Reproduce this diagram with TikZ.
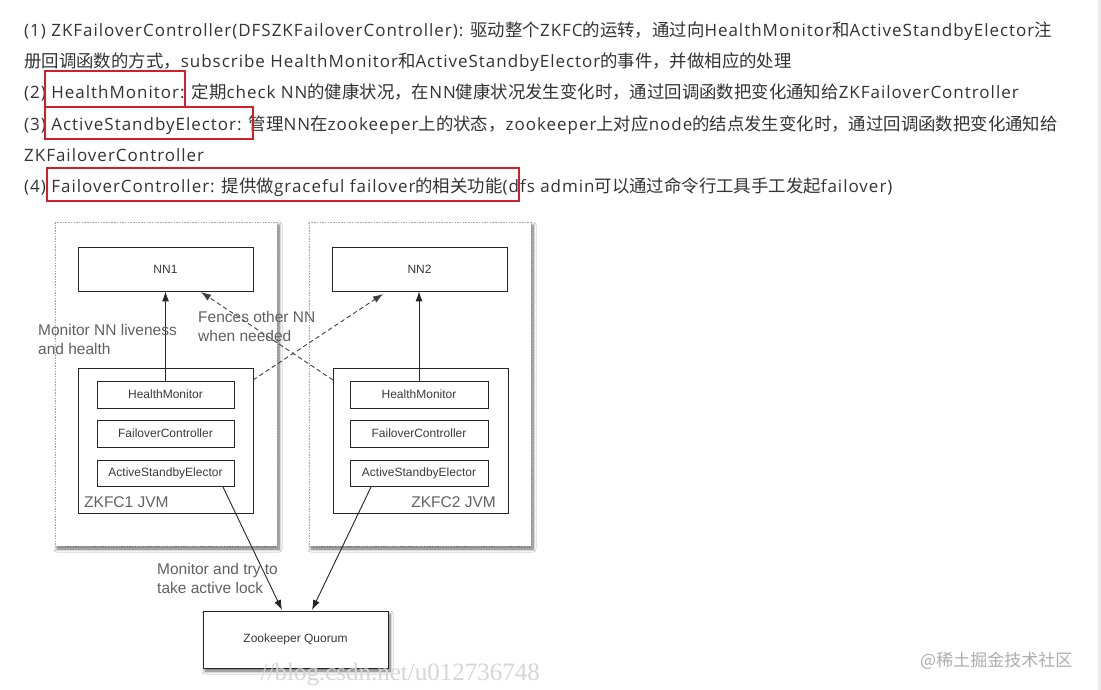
\documentclass[tikz,border=0pt]{standalone}
\usepackage{fontspec}
\setmainfont[LetterSpace=5.8]{Open Sans}
\newfontfamily\cjkf{Noto Sans CJK SC}
\newfontfamily\diag{Liberation Sans}
\newfontfamily\wmserif{Liberation Serif}
\newcommand\zh[1]{{\cjkf\fontsize{17.4}{17}\selectfont #1}}
\usetikzlibrary{arrows.meta,shadows.blur}
\definecolor{txt}{HTML}{333333}
\definecolor{redbox}{HTML}{D0202A}
\definecolor{dtxt}{HTML}{3A3A3A}
\begin{document}
\begin{tikzpicture}[x=1pt,y=-1pt,
  line/.style={anchor=base west,inner sep=0pt,font=\fontsize{17}{17}\selectfont,text=txt},
  hl/.style={draw=redbox,line width=1.6pt},
  outerbox/.style={draw=gray!70,dash pattern=on 1.5pt off 1.2pt,line width=0.7pt,fill=white,
     blur shadow={shadow xshift=2pt,shadow yshift=-3pt,shadow blur steps=8,shadow blur radius=3pt,shadow opacity=60}},
  plain/.style={draw=black!85,line width=0.8pt,fill=white},
  comp/.style={draw=black!85,line width=0.8pt,fill=white,font=\diag\fontsize{12}{12}\selectfont,text=dtxt},
  lbl/.style={font=\diag\fontsize{15.5}{19.5}\selectfont,text=black!62,align=left,inner sep=0pt},
  arr/.style={-{Latex[length=10pt,width=7pt]},line width=0.9pt,draw=black!85},
  darr/.style={-{Latex[length=10pt,width=7pt]},line width=0.9pt,draw=black!75,dash pattern=on 4.5pt off 3pt}]
\useasboundingbox (0,0) rectangle (1101,690);
\fill[white] (0,0) rectangle (1101,690);
\fill[black!8] (1098,0) rectangle (1101,690);
% text
\node[line] (l1) at (24,37) {(1) ZKFailoverController(DFSZKFailoverController): \zh{驱动整个}ZKFC\zh{的运转，通过向}HealthMonitor\zh{和}ActiveStandbyElector\zh{注}};
\node[line] (l2) at (24,68) {\zh{册回调函数的方式，}subscribe HealthMonitor\zh{和}ActiveStandbyElector\zh{的事件，并做相应的处理}};
\node[line] (l3) at (24,99) {(2) HealthMonitor: \zh{定期}check NN\zh{的健康状况，在}NN\zh{健康状况发生变化时，通过回调函数把变化通知给}ZKFailoverController};
\node[line] (l4) at (24,131) {(3) ActiveStandbyElector: \zh{管理}NN\zh{在}zookeeper\zh{上的状态，}zookeeper\zh{上对应}node\zh{的结点发生变化时，通过回调函数把变化通知给}};
\node[line] (l5) at (24,161) {ZKFailoverController};
\node[line] (l6) at (24,193) {(4) FailoverController: \zh{提供做}graceful failover\zh{的相关功能}(dfs admin\zh{可以通过命令行工具手工发起}failover)};
\draw[hl] (45,71) rectangle (185,107);
\draw[hl] (45,107) rectangle (253,139);
\draw[hl] (47,168) rectangle (519,201);
% outer boxes
\path[outerbox] (55,222) rectangle (277,546);
\path[outerbox] (309,222) rectangle (531,546);
% NN
\node[comp,minimum width=175pt,minimum height=44pt] (nn1) at (165.5,269) {NN1};
\node[comp,minimum width=175pt,minimum height=44pt] (nn2) at (419.5,269) {NN2};
% JVM boxes
\node[plain,minimum width=175pt,minimum height=145pt] (j1) at (165.5,440.5) {};
\node[plain,minimum width=175pt,minimum height=145pt] (j2) at (420.5,440.5) {};
\node[comp,minimum width=137pt,minimum height=27pt] (hm1) at (165.5,394.5) {HealthMonitor};
\node[comp,minimum width=137pt,minimum height=27pt] (fc1) at (165.5,433.5) {FailoverController};
\node[comp,minimum width=137pt,minimum height=26pt] (ae1) at (165.5,473) {ActiveStandbyElector};
\node[comp,minimum width=138pt,minimum height=27pt] (hm2) at (419,394.5) {HealthMonitor};
\node[comp,minimum width=138pt,minimum height=27pt] (fc2) at (419,433.5) {FailoverController};
\node[comp,minimum width=138pt,minimum height=26pt] (ae2) at (419,473) {ActiveStandbyElector};
\node[lbl,anchor=west] (jl1) at (84,502) {ZKFC1 JVM};
\node[lbl,anchor=east] (jl2) at (496,502) {ZKFC2 JVM};
% zookeeper
\node[comp,minimum width=185pt,minimum height=57pt,
  blur shadow={shadow xshift=2pt,shadow yshift=-3pt,shadow blur steps=8,shadow blur radius=3pt,shadow opacity=60}] (zk) at (295.5,639.5) {Zookeeper Quorum};
% arrows
\draw[arr] (hm1.north) -- (hm1.north |- nn1.south);
\draw[arr] (hm2.north) -- (hm2.north |- nn2.south);
\coordinate (d1s) at (253,380);
\coordinate (d1e) at (383,294);
\coordinate (d2s) at (333,380);
\coordinate (d2e) at (201,292);
\draw[darr] (d1s) -- (d1e);
\draw[darr] (d2s) -- (d2e);
\coordinate (a1s) at (223,487);
\coordinate (a1e) at (282,610);
\coordinate (a2s) at (371,487);
\coordinate (a2e) at (312,610);
\draw[arr] (a1s) -- (a1e);
\draw[arr] (a2s) -- (a2e);
% labels
\node[lbl,anchor=north west] (m1) at (38,324) {Monitor NN liveness\\and health};
\node[lbl,anchor=north west] (f1) at (198,311) {Fences other NN\\when needed};
\node[lbl,anchor=north west] (m2) at (157,563) {Monitor and try to\\take active lock};
% watermarks
\node[anchor=base east,inner sep=0pt,text=black!16,font=\wmserif\fontsize{25}{25}\selectfont] (wm) at (540,680) {//blog.csdn.net/u012736748};
\node[anchor=base west,inner sep=0pt,text=black!32,font=\cjkf\fontsize{17}{17}\selectfont] (wm2) at (920,666) {@稀土掘金技术社区};
\end{tikzpicture}
\end{document}
